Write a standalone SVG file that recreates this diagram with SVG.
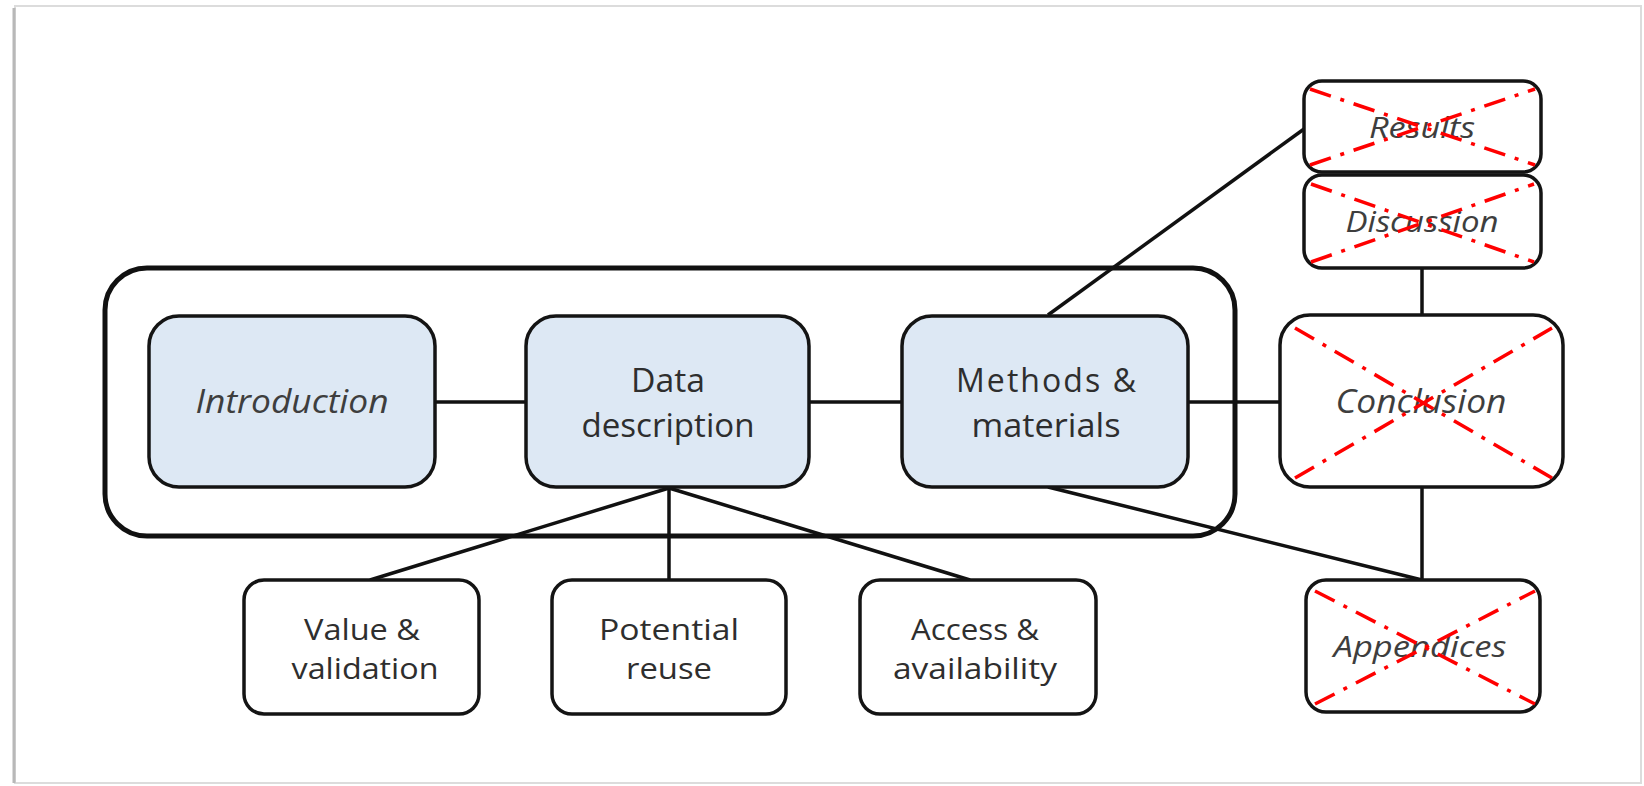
<svg xmlns="http://www.w3.org/2000/svg" width="1644" height="786" viewBox="0 0 1644 786">
<style>
.box{stroke:#141414;stroke-width:3.5;}
.blue{fill:#dde8f4;}
.white{fill:#ffffff;}
.conn line{stroke:#111;stroke-width:3.5;}
.t{font-family:"Open Sans","Liberation Sans",sans-serif;fill:#2e2e2e;text-anchor:middle;}
.big{font-size:32px;}
.small{font-size:30px;}
.it{font-style:italic;fill:#3e3e3e;}
.x{stroke:#ff0000;stroke-width:3.5;stroke-dasharray:22 10 4 10;fill:none;}
</style>
<rect x="0" y="0" width="1644" height="786" fill="#ffffff"/>
<rect id="frame" x="15" y="6" width="1626" height="777" fill="#ffffff" stroke="#dcdcdc" stroke-width="2"/>
<line x1="14" y1="8" x2="14" y2="783" stroke="#b8b8b8" stroke-width="3"/>

<g id="group-box">
<rect x="105" y="268" width="1130" height="268" rx="42" fill="none" stroke="#111" stroke-width="5"/>
</g>

<g id="connectors" class="conn">
<line x1="435" y1="402" x2="526" y2="402"/>
<line x1="809" y1="402" x2="902" y2="402"/>
<line x1="1188" y1="402" x2="1280" y2="402"/>
<line x1="1048" y1="315" x2="1304" y2="129"/>
<line x1="1422" y1="268" x2="1422" y2="315"/>
<line x1="1422" y1="487" x2="1422" y2="580"/>
<line x1="1048" y1="487" x2="1422" y2="580"/>
<line x1="669" y1="488" x2="370" y2="580"/>
<line x1="669" y1="488" x2="669" y2="580"/>
<line x1="669" y1="488" x2="970" y2="580"/>
</g>

<g id="introduction">
<rect class="box blue" x="149" y="316" width="286" height="171" rx="30"/>
<text class="t big it" x="292" y="413" textLength="193" lengthAdjust="spacingAndGlyphs">Introduction</text>
</g>

<g id="data-description">
<rect class="box blue" x="526" y="316" width="283" height="171" rx="30"/>
<text class="t big" x="668" y="392" textLength="74" lengthAdjust="spacingAndGlyphs">Data</text>
<text class="t big" x="668" y="437" textLength="173" lengthAdjust="spacingAndGlyphs">description</text>
</g>

<g id="methods-materials">
<rect class="box blue" x="902" y="316" width="286" height="171" rx="30"/>
<text class="t big" x="1046" y="392" textLength="180" lengthAdjust="spacing">Methods &amp;</text>
<text class="t big" x="1046" y="437" textLength="149" lengthAdjust="spacingAndGlyphs">materials</text>
</g>

<g id="conclusion">
<rect class="box white" x="1280" y="315" width="283" height="172" rx="30"/>
<text class="t big it" x="1421" y="413" textLength="171" lengthAdjust="spacingAndGlyphs">Conclusion</text>
<line class="x" x1="1295" y1="328" x2="1552" y2="478"/>
<line class="x" x1="1295" y1="478" x2="1552" y2="328"/>
</g>

<g id="results">
<rect class="box white" x="1304" y="81" width="237" height="91" rx="18"/>
<text class="t small it" x="1422" y="138" textLength="106" lengthAdjust="spacingAndGlyphs">Results</text>
<line class="x" x1="1310" y1="89" x2="1535" y2="165"/>
<line class="x" x1="1310" y1="165" x2="1535" y2="89"/>
</g>

<g id="discussion">
<rect class="box white" x="1304" y="175" width="237" height="93" rx="18"/>
<text class="t small it" x="1422" y="232" textLength="153" lengthAdjust="spacingAndGlyphs">Discussion</text>
<line class="x" x1="1311" y1="184" x2="1534" y2="262"/>
<line class="x" x1="1311" y1="262" x2="1534" y2="184"/>
</g>

<g id="appendices">
<rect class="box white" x="1306" y="580" width="234" height="132" rx="20"/>
<text class="t small it" x="1420" y="657" textLength="173" lengthAdjust="spacingAndGlyphs">Appendices</text>
<line class="x" x1="1315" y1="591" x2="1535" y2="704"/>
<line class="x" x1="1315" y1="704" x2="1535" y2="591"/>
</g>

<g id="value-validation">
<rect class="box white" x="244" y="580" width="235" height="134" rx="20"/>
<text class="t small" x="362" y="640" textLength="116" lengthAdjust="spacingAndGlyphs">Value &amp;</text>
<text class="t small" x="365" y="679" textLength="147" lengthAdjust="spacingAndGlyphs">validation</text>
</g>

<g id="potential-reuse">
<rect class="box white" x="552" y="580" width="234" height="134" rx="20"/>
<text class="t small" x="669" y="640" textLength="140" lengthAdjust="spacingAndGlyphs">Potential</text>
<text class="t small" x="669" y="679" textLength="86" lengthAdjust="spacingAndGlyphs">reuse</text>
</g>

<g id="access-availability">
<rect class="box white" x="860" y="580" width="236" height="134" rx="20"/>
<text class="t small" x="975" y="640" textLength="128" lengthAdjust="spacingAndGlyphs">Access &amp;</text>
<text class="t small" x="975" y="679" textLength="164" lengthAdjust="spacingAndGlyphs">availability</text>
</g>
</svg>
